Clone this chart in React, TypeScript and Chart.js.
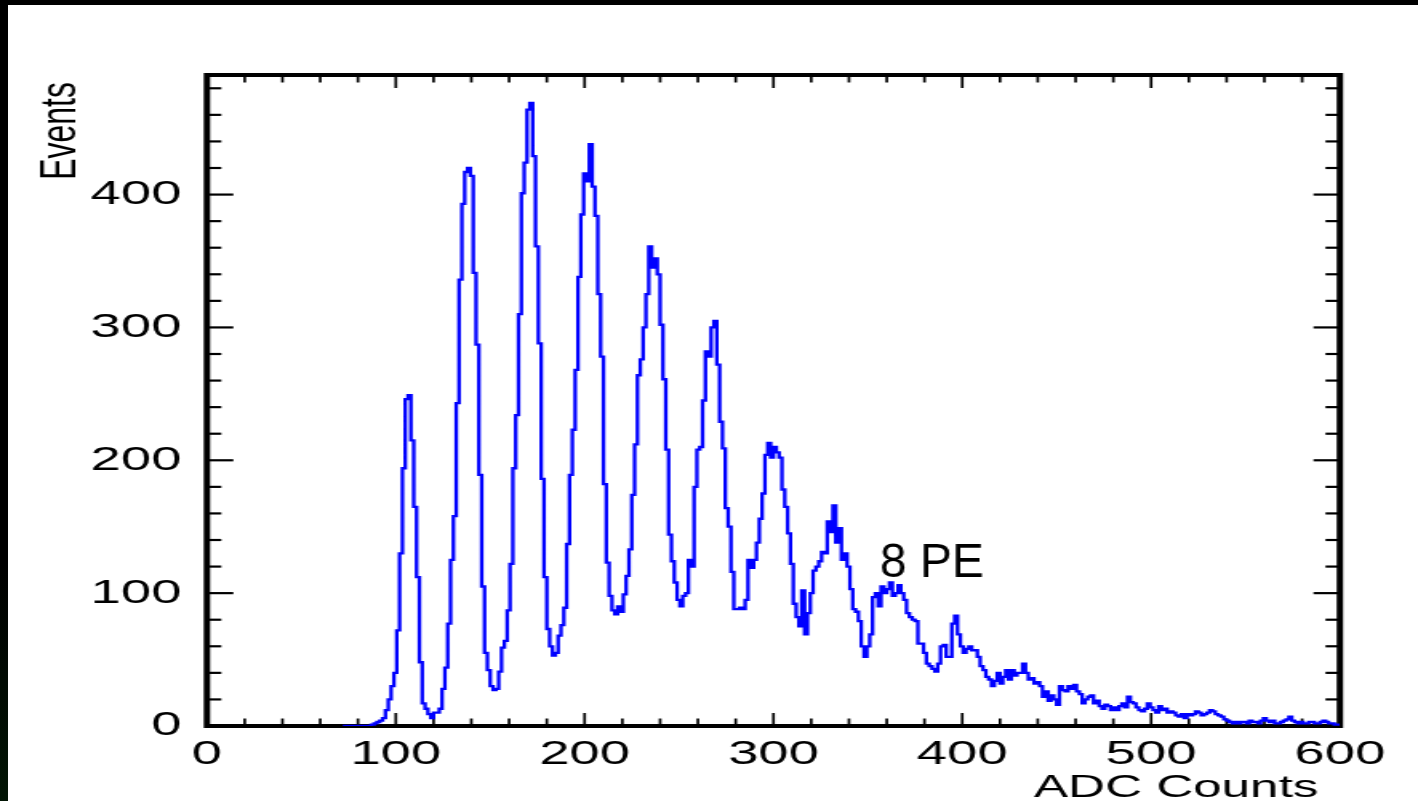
import React, { useEffect, useRef } from "react";
import { Chart, registerables } from "chart.js";

Chart.register(...registerables);

// ---------------- data ----------------
const BIN_WIDTH = 1.5;
const FIRST_BIN_LEFT = 72;
const X_LAST_EDGE = 600;

const counts072 = [0, 0, 0, 0, 0, 0, 0, 0, 0, 0, 0, 1, 2, 3, 4, 6, 12, 20, 30, 40];
const counts102 = [72, 130, 194, 246, 249, 215, 165, 112, 48, 17, 13, 9, 6, 10, 10, 13, 28, 44, 77, 125];
const counts132 = [158, 243, 336, 393, 417, 420, 414, 341, 287, 189, 105, 55, 42, 30, 27, 28, 41, 59, 64, 87];
const counts162 = [122, 194, 234, 310, 401, 424, 464, 469, 429, 361, 288, 186, 112, 73, 60, 53, 55, 68, 76, 89];
const counts192 = [137, 189, 223, 268, 338, 385, 416, 410, 438, 406, 384, 325, 278, 182, 123, 98, 87, 84, 90, 86];
const counts222 = [99, 113, 133, 174, 212, 264, 276, 300, 325, 361, 345, 352, 340, 302, 261, 208, 144, 124, 108, 95];
const counts252 = [90, 98, 100, 125, 120, 180, 208, 210, 245, 282, 278, 300, 305, 272, 229, 209, 164, 150, 116, 88];
const counts282 = [88, 89, 88, 95, 125, 119, 125, 138, 156, 175, 204, 213, 202, 210, 206, 202, 178, 165, 145, 122];
const counts312 = [92, 82, 75, 102, 69, 85, 100, 117, 120, 124, 131, 130, 154, 146, 166, 138, 149, 125, 130, 120];
const counts342 = [103, 88, 86, 79, 60, 52, 60, 69, 97, 100, 90, 105, 100, 103, 108, 98, 100, 106, 100, 95];
const counts372 = [85, 82, 80, 79, 62, 62, 55, 47, 45, 43, 41, 47, 60, 61, 52, 52, 77, 83, 69, 60];
const counts402 = [55, 58, 60, 57, 57, 52, 45, 42, 37, 35, 30, 34, 40, 32, 37, 42, 35, 42, 38, 40];
const counts432 = [40, 47, 40, 35, 36, 32, 33, 30, 22, 26, 19, 23, 20, 16, 30, 27, 26, 30, 28, 31];
const counts462 = [26, 24, 17, 20, 22, 23, 17, 19, 15, 13, 16, 15, 12, 14, 12, 15, 17, 14, 22, 18];
const counts492 = [17, 14, 12, 11, 13, 17, 14, 12, 10, 15, 12, 13, 10, 11, 10, 8, 7, 9, 6, 9];
const counts522 = [8, 9, 11, 10, 8, 9, 10, 12, 11, 9, 8, 7, 5, 4, 3, 2, 3, 2, 3, 3];
const counts552 = [2, 4, 3, 3, 2, 4, 6, 4, 3, 4, 2, 2, 3, 4, 5, 7, 4, 3, 2, 3];
const counts582 = [2, 2, 3, 3, 2, 2, 3, 4, 3, 2, 2, 1];

const X_MIN = 0;
const X_MAX = 600;
const Y_MIN = 0;
const Y_MAX = 490;
const X_TICKS = [0, 100, 200, 300, 400, 500, 600];
const Y_TICKS = [0, 100, 200, 300, 400];
const X_MAJOR = 100;
const X_MINOR = 20;
const Y_MAJOR = 100;
const Y_MINOR = 20;

const X_TITLE = "ADC Counts";
const Y_TITLE = "Events";
const PEAK_LABEL = "8 PE";
const PEAK_LABEL_AT = { x: 356.4, y: 112.5 };

// ---------------- styling ----------------
const S = 1410 / 881; // horizontal stretch of the picture
const FONT = '"Liberation Sans", Arial, Helvetica, sans-serif';

const allCounts = [
  ...counts072, ...counts102, ...counts132, ...counts162, ...counts192, ...counts222,
  ...counts252, ...counts282, ...counts312, ...counts342, ...counts372, ...counts402,
  ...counts432, ...counts462, ...counts492, ...counts522, ...counts552, ...counts582,
];

const histPoints = allCounts.map((c, i) => ({ x: FIRST_BIN_LEFT + i * BIN_WIDTH, y: c }));
histPoints.push({ x: X_LAST_EDGE, y: allCounts[allCounts.length - 1] });

const framePlugin = {
  id: "frameTicks",
  beforeDatasetsDraw(chart: any) {
    const { ctx, chartArea: a, scales } = chart;
    const xs = scales.x;
    const ys = scales.y;
    ctx.save();
    ctx.strokeStyle = "#000";
    ctx.lineCap = "butt";
    const seg = (x1: number, y1: number, x2: number, y2: number) => {
      ctx.beginPath();
      ctx.moveTo(x1, y1);
      ctx.lineTo(x2, y2);
      ctx.stroke();
    };
    ctx.lineWidth = 1.7;
    for (let v = X_MIN; v <= X_MAX; v += X_MINOR) {
      const px = xs.getPixelForValue(v);
      const len = v % X_MAJOR === 0 ? 13 : 7.5;
      seg(px, a.bottom, px, a.bottom - len);
      seg(px, a.top, px, a.top + len);
    }
    ctx.lineWidth = 2.2;
    for (let v = Y_MIN; v <= Y_MAX; v += Y_MINOR) {
      const py = ys.getPixelForValue(v);
      const len = v % Y_MAJOR === 0 ? 16.5 : 9;
      seg(a.left, py, a.left + len, py);
      seg(a.right, py, a.right - len, py);
    }
    ctx.lineWidth = 4;
    ctx.strokeRect(a.left, a.top, a.right - a.left, a.bottom - a.top);
    ctx.restore();
  },
};

const textPlugin = {
  id: "texts",
  afterDraw(chart: any) {
    const { ctx, chartArea: a, scales } = chart;
    ctx.save();
    ctx.fillStyle = "#000";
    ctx.font = `32px ${FONT}`;

    ctx.save();
    ctx.translate(a.left - 82.4, a.top + 7);
    ctx.rotate(-Math.PI / 2);
    ctx.textAlign = "right";
    ctx.textBaseline = "alphabetic";
    ctx.fillText(Y_TITLE, 0, 0);
    ctx.restore();

    ctx.textAlign = "right";
    ctx.textBaseline = "alphabetic";
    ctx.fillText(X_TITLE, a.right - 13.4, a.bottom + 71);

    const px = scales.x.getPixelForValue(PEAK_LABEL_AT.x);
    const py = scales.y.getPixelForValue(PEAK_LABEL_AT.y);
    ctx.save();
    ctx.translate(px, py);
    ctx.scale(1 / S, 1);
    ctx.font = `48px ${FONT}`;
    ctx.textAlign = "left";
    ctx.fillText(PEAK_LABEL, 0, 0);
    ctx.restore();

    ctx.restore();
  },
};

export default function App() {
  const ref = useRef<HTMLCanvasElement>(null);

  useEffect(() => {
    if (!ref.current) return;
    const tickFont = { family: FONT, size: 34 };
    const chart = new Chart(ref.current, {
      type: "line",
      data: {
        datasets: [
          {
            data: histPoints,
            stepped: "after",
            borderColor: "#0000ff",
            borderWidth: 2.3,
            pointRadius: 0,
            fill: false,
          } as any,
        ],
      },
      options: {
        responsive: true,
        maintainAspectRatio: false,
        animation: false,
        events: [],
        layout: { padding: { top: 70, right: 881 - 832.2, left: 0, bottom: 0 } },
        plugins: { legend: { display: false }, tooltip: { enabled: false } },
        scales: {
          x: {
            type: "linear",
            min: X_MIN,
            max: X_MAX,
            grid: { display: false },
            border: { display: false },
            ticks: {
              autoSkip: false,
              maxRotation: 0,
              padding: 0,
              color: "#000",
              font: tickFont,
            },
            afterBuildTicks(s: any) {
              s.ticks = X_TICKS.map((v) => ({ value: v }));
            },
            afterFit(s: any) {
              s.height = 75;
            },
          },
          y: {
            type: "linear",
            min: Y_MIN,
            max: Y_MAX,
            grid: { display: false },
            border: { display: false },
            ticks: {
              autoSkip: false,
              padding: 8,
              color: "#000",
              font: tickFont,
            },
            afterBuildTicks(s: any) {
              s.ticks = Y_TICKS.map((v) => ({ value: v }));
            },
            afterFit(s: any) {
              s.width = 124.3;
            },
          },
        },
      } as any,
      plugins: [framePlugin, textPlugin],
    });
    return () => chart.destroy();
  }, []);

  return (
    <div
      style={{
        position: "fixed",
        left: 0,
        top: 0,
        width: 1418,
        height: 801,
        overflow: "hidden",
        background: "linear-gradient(to bottom, #000 0%, #000 70%, #021504 100%)",
      }}
    >
      <div
        style={{
          position: "absolute",
          left: 8,
          top: 5,
          width: 1410,
          height: 796,
          background: "#fff",
          overflow: "hidden",
        }}
      >
        <div
          style={{
            position: "absolute",
            left: 0,
            top: 0,
            width: 881,
            height: 796,
            transform: `scaleX(${S})`,
            transformOrigin: "0 0",
          }}
        >
          <canvas ref={ref} />
        </div>
      </div>
    </div>
  );
}
